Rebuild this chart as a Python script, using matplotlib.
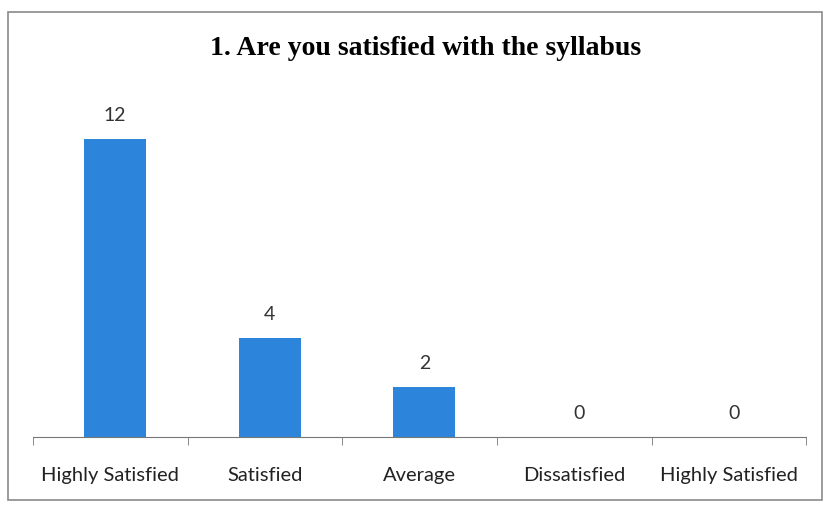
import matplotlib.pyplot as plt
from matplotlib.patches import Rectangle

# 1. Are you satisfied with the syllabus
categories = ["Highly Satisfied", "Satisfied", "Average", "Dissatisfied", "Highly Satisfied"]
responses = [12, 4, 2, 0, 0]

fig = plt.figure(figsize=(8.27, 5.11), dpi=100)
fig.patches.append(Rectangle((0.010, 0.022), 0.984, 0.955, transform=fig.transFigure,
                             fill=False, edgecolor='#8a8a8a', linewidth=1.2))

ax = fig.add_axes([0.040, 0.145, 0.935, 0.68])
x = range(len(responses))
bars = ax.bar([i + 0.03 for i in x], responses, width=0.4, color='#2c85da')
for b, v in zip(bars, responses):
    ax.text(b.get_x() + b.get_width() / 2, v + 0.6, str(v), ha='center', va='bottom',
            fontsize=14, family='Lato', color='#333333')

ax.set_xlim(-0.5, len(responses) - 0.5)
ax.set_ylim(0, 14)
ax.set_xticks([i - 0.5 for i in range(len(responses) + 1)], minor=True)
ax.set_xticks(list(x))
ax.set_xticklabels(categories, fontsize=14.5, family='Lato', color='#222222')
ax.tick_params(axis='x', which='major', length=0, pad=22)
ax.tick_params(axis='x', which='minor', length=6, color='#777777', direction='out')
ax.set_yticks([])
for s in ['top', 'left', 'right']:
    ax.spines[s].set_visible(False)
ax.spines['bottom'].set_color('#777777')

fig.text(0.515, 0.905, "1. Are you satisfied with the syllabus", ha='center', va='center',
         fontsize=20, fontweight='bold', family='Liberation Serif')

plt.savefig('out.png')
